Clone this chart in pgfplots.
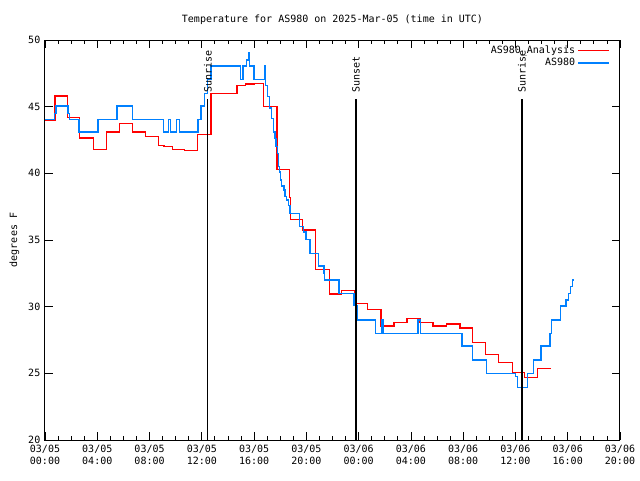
\documentclass[border=0pt]{standalone}
\usepackage{pgfplots}
\pgfplotsset{compat=1.18}
\usepackage{fontspec}
\setmainfont{DejaVu Sans Mono}
\definecolor{myblue}{RGB}{0,128,255}
\definecolor{myred}{RGB}{255,0,0}
\begin{document}
\begin{tikzpicture}[x=1pt,y=1pt]
\useasboundingbox (-33.75,-30) rectangle (446.25,330);
\begin{axis}[at={(0,0)}, anchor=south west, scale only axis,
 width=431.25pt, height=300pt,
 xmin=0, xmax=44, ymin=20, ymax=50,
 xtick={0,4,...,44}, minor x tick num=3,
 xticklabels={{03/05\\00:00},{03/05\\04:00},{03/05\\08:00},{03/05\\12:00},{03/05\\16:00},{03/05\\20:00},{03/06\\00:00},{03/06\\04:00},{03/06\\08:00},{03/06\\12:00},{03/06\\16:00},{03/06\\20:00}},
 xticklabel style={align=center, font=\fontsize{7.5}{9}\selectfont},
 yticklabel style={font=\fontsize{7.5}{9}\selectfont},
 /pgf/number format/assume math mode=true,
 ytick={20,25,...,50},
 tick align=inside, major tick length=6pt, minor tick length=3pt,
 tick style={black, line width=0.6pt},
 axis line style={line width=0.75pt},
 legend plot pos=right, legend cell align=right,
 legend image code/.code={\draw[#1] (0pt,0pt) -- (23pt,0pt);},
 legend style={at={(rel axis cs:0.985,0.997)}, anchor=north east, draw=none, fill=none,
   font=\fontsize{7.5}{9}\selectfont, row sep=-1.5pt, inner sep=1pt},
]
\addplot[myred, line width=1pt, const plot] coordinates {
(0,44.0) (0.77,45.8) (1.7,44.2) (2.65,42.65) (3.7,41.8) (4.7,43.1) (5.7,43.75)
(6.7,43.1) (7.7,42.75) (8.7,42.1) (9.1,42.0) (9.75,41.8) (10.65,41.7) (11.65,42.9)
(12.7,46.0) (14.7,46.6) (15.35,46.7) (16.0,46.75) (16.7,45.0) (17.75,40.3)
(18.72,38.2) (18.8,36.55) (19.7,35.75) (20.7,32.8) (21.75,30.95) (22.7,31.2)
(23.7,30.25) (24.7,29.8) (25.7,28.55) (26.7,28.8) (27.7,29.1) (28.7,28.8)
(29.7,28.55) (30.7,28.7) (31.75,28.4) (32.7,27.3) (33.7,26.4) (34.7,25.8)
(35.75,25.05) (36.7,24.7) (37.7,25.35) (38.7,25.35)
};
\addlegendentry{AS980\_Analysis}
\addplot[myblue, line width=1pt, const plot] coordinates {
(0,44.05) (0.75,44.5) (0.85,45.05) (1.75,44.5) (1.85,44.05) (2.6,43.1) (4.05,44.05)
(5.5,45.05) (6.7,44.05) (9.05,43.1) (9.45,44.05) (9.6,43.1) (10.05,44.05) (10.3,43.1)
(11.7,44.05) (11.95,45.05) (12.2,46.0) (12.45,47.05) (12.7,48.05) (14.97,47.05)
(15.15,48.05) (15.4,48.5) (15.55,49.05) (15.65,48.05) (16.0,47.05) (16.8,48.05)
(16.87,46.6) (17.04,45.75) (17.2,44.9) (17.35,44.1) (17.47,43.1) (17.6,42.6)
(17.68,42.0) (17.8,41.5) (17.86,40.5) (17.94,40.1) (18.04,39.5) (18.12,39.05)
(18.3,38.75) (18.37,38.25) (18.5,38.0) (18.63,37.6) (18.76,37.0) (19.48,36.0)
(19.78,35.6) (19.96,35.05) (20.29,34.0) (20.93,33.05) (21.36,32.5) (21.4,32.0)
(22.5,31.0) (23.65,30.1) (23.9,29.0) (25.3,28.0) (25.8,29.0) (25.9,28.0)
(28.55,29.0) (28.75,28.0) (31.9,27.05) (32.7,26.0) (33.8,25.0) (36.0,24.75)
(36.15,23.95) (36.9,25.0) (37.36,26.0) (37.95,27.05) (38.64,28.0) (38.75,29.0)
(39.45,30.05) (39.87,30.5) (40.04,31.0) (40.2,31.5) (40.37,32.0) (40.4,32.0)
};
\addlegendentry{AS980}
\addplot[black, line width=0.8pt, forget plot] coordinates {(12.47,20) (12.47,45.6)};
\addplot[black, line width=0.8pt, forget plot] coordinates {(23.8,20) (23.8,45.6)};
\addplot[black, line width=0.8pt, forget plot] coordinates {(36.5,20) (36.5,45.6)};
\node[rotate=90, anchor=west, inner sep=1pt, font=\fontsize{7.5}{9}\selectfont] at (axis cs:12.47,45.95) {Sunrise};
\node[rotate=90, anchor=west, inner sep=1pt, font=\fontsize{7.5}{9}\selectfont] at (axis cs:23.8,45.95) {Sunset};
\node[rotate=90, anchor=west, inner sep=1pt, font=\fontsize{7.5}{9}\selectfont] at (axis cs:36.5,45.95) {Sunrise};
\end{axis}
\node[font=\fontsize{7.5}{9}\selectfont] at (215.6,315) {Temperature for AS980 on 2025-Mar-05 (time in UTC)};
\node[rotate=90, font=\fontsize{7.5}{9}\selectfont] at (-23,150) {degrees F};
\end{tikzpicture}
\end{document}
